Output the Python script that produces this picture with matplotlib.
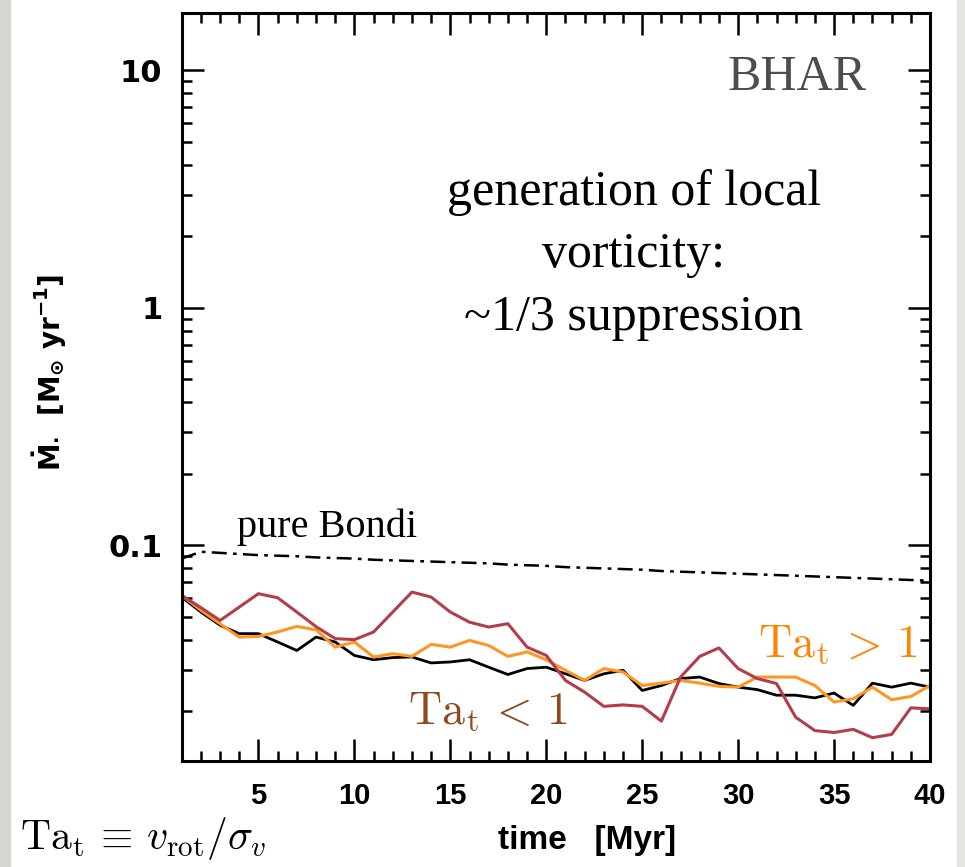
import matplotlib
matplotlib.use("Agg")
import matplotlib.pyplot as plt
import matplotlib.ticker as mticker
from matplotlib.patches import Rectangle

# time axis in Myr
time = list(range(1, 41))

bondi = [0.088, 0.094, 0.093, 0.092, 0.091, 0.0905, 0.090, 0.089, 0.0885, 0.088,
         0.087, 0.0865, 0.086, 0.0855, 0.085, 0.0845, 0.084, 0.083, 0.0825, 0.082,
         0.081, 0.0805, 0.080, 0.0795, 0.079, 0.078, 0.0775, 0.077, 0.0765, 0.076,
         0.0755, 0.075, 0.0745, 0.074, 0.0735, 0.073, 0.0725, 0.072, 0.0715, 0.071]

black = [0.0606, 0.0524, 0.0461, 0.0425, 0.0425, 0.0392, 0.0361, 0.0411, 0.0392, 0.0344,
         0.0330, 0.0337, 0.0339, 0.0320, 0.0323, 0.0330, 0.0307, 0.0286, 0.0303, 0.0307,
         0.0288, 0.0270, 0.0288, 0.0298, 0.0245, 0.0257, 0.0275, 0.0279, 0.0262, 0.0253,
         0.0247, 0.0234, 0.0234, 0.0228, 0.0239, 0.0212, 0.0263, 0.0253, 0.0263, 0.0253]

orange = [0.0616, 0.0533, 0.0468, 0.0411, 0.0414, 0.0432, 0.0456, 0.0441, 0.0373, 0.0392,
          0.0339, 0.0350, 0.0341, 0.0383, 0.0373, 0.0398, 0.0379, 0.0341, 0.0356, 0.0330,
          0.0298, 0.0270, 0.0303, 0.0293, 0.0257, 0.0263, 0.0270, 0.0263, 0.0255, 0.0253,
          0.0279, 0.0279, 0.0279, 0.0257, 0.0219, 0.0226, 0.0253, 0.0224, 0.0231, 0.0257]

red = [0.0616, 0.0547, 0.0483, 0.0550, 0.0626, 0.0602, 0.0524, 0.0455, 0.0405, 0.0401,
       0.0432, 0.0524, 0.0636, 0.0606, 0.0524, 0.0475, 0.0453, 0.0468, 0.0373, 0.0344,
       0.0270, 0.0241, 0.0210, 0.0213, 0.0210, 0.0182, 0.0279, 0.0341, 0.0370, 0.0303,
       0.0275, 0.0262, 0.0189, 0.0166, 0.0163, 0.0168, 0.0155, 0.0160, 0.0207, 0.0205]

xticks = [5, 10, 15, 20, 25, 30, 35, 40]
yticks = [0.1, 1, 10]
ytick_labels = ["0.1", "1", "10"]

W, H = 965, 867
fig = plt.figure(figsize=(W / 100, H / 100), dpi=100)

def fx(px):
    return px / W

def fy(py):
    return 1 - py / H

# grey strips at the edges of the slide
fig.patches.append(Rectangle((0, 0), fx(10), 1, transform=fig.transFigure,
                             color="#d6d6d2", zorder=0))
fig.patches.append(Rectangle((fx(957), 0), 1, 1, transform=fig.transFigure,
                             color="#e4e4e0", zorder=0))

ax = fig.add_axes([fx(181.7), fy(760.7), fx(930 - 181.7), (760.7 - 12.7) / H])

ax.plot(time, bondi, color="black", lw=1.8, dashes=(6, 2.5, 1.5, 2.5))
ax.plot(time, black, color="black", lw=2.0)
ax.plot(time, orange, color="#ff9622", lw=2.2)
ax.plot(time, red, color="#b33d4a", lw=2.2)

ax.set_xlim(1, 40)
ax.set_yscale("log")
ax.set_ylim(0.0124, 17.5)

for s in ax.spines.values():
    s.set_linewidth(2.2)

ax.xaxis.set_major_locator(mticker.FixedLocator(xticks))
ax.xaxis.set_minor_locator(mticker.MultipleLocator(1))
ax.yaxis.set_major_locator(mticker.FixedLocator(yticks))
ax.yaxis.set_major_formatter(mticker.FixedFormatter(ytick_labels))
ax.yaxis.set_minor_locator(mticker.LogLocator(base=10, subs=range(2, 10), numticks=20))
ax.yaxis.set_minor_formatter(mticker.NullFormatter())

ax.tick_params(which="both", direction="in", top=True, right=True, width=1.8)
ax.tick_params(which="major", length=16)
ax.tick_params(which="minor", length=7)
ax.tick_params(axis="y", which="major", pad=14)
ax.tick_params(axis="x", which="major", pad=15)

for lab in ax.get_xticklabels():
    lab.set_fontfamily(["Liberation Sans", "DejaVu Sans"])
    lab.set_fontweight("bold")
    lab.set_fontsize(21)
for lab in ax.get_yticklabels():
    lab.set_fontfamily(["DejaVu Sans"])
    lab.set_fontweight("bold")
    lab.set_fontsize(22)

# axis labels
fig.text(fx(50), fy(372), r"$\mathbf{\dot{M}_{\bullet}}$  $\mathbf{[M_{\odot}\ yr^{-1}]}$",
         rotation=90, ha="center", va="center", fontsize=20, fontweight="bold",
         math_fontfamily="dejavusans")
fig.text(fx(587), fy(840), "time   [Myr]", ha="center", va="center", fontsize=24,
         fontweight="bold", family=["Liberation Sans", "DejaVu Sans"])

serif = ["Liberation Serif", "DejaVu Serif"]
fig.text(fx(797), fy(78), "BHAR", ha="center", va="center", fontsize=36,
         color="#4d4d4d", family=serif)
fig.text(fx(634), fy(193), "generation of local", ha="center", va="center",
         fontsize=36, family=serif)
fig.text(fx(634), fy(255), "vorticity:", ha="center", va="center",
         fontsize=36, family=serif)
fig.text(fx(634), fy(318), "~1/3 suppression", ha="center", va="center",
         fontsize=36, family=serif)
fig.text(fx(237), fy(527), "pure Bondi", ha="left", va="center",
         fontsize=29, family=serif)

fig.text(fx(758), fy(645), r"$\mathrm{Ta_t}\,>\,1$", ha="left", va="center",
         fontsize=33, color="#ff8400", math_fontfamily="cm")
fig.text(fx(408), fy(712), r"$\mathrm{Ta_t}\,<\,1$", ha="left", va="center",
         fontsize=33, color="#8e4a1e", math_fontfamily="cm")
fig.text(fx(20), fy(839), r"$\mathrm{Ta_t}\,\equiv\,v_{\mathrm{rot}}/\sigma_v$", ha="left",
         va="center", fontsize=30, color="black", math_fontfamily="cm")

fig.savefig("out.png", dpi=100)
